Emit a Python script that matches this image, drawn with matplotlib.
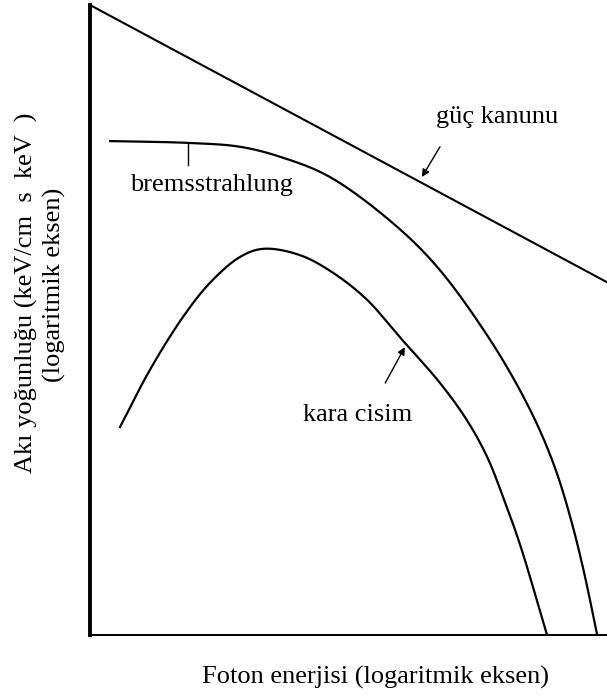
import matplotlib
matplotlib.use("Agg")
import matplotlib.pyplot as plt
import numpy as np

plt.rcParams['font.family'] = ['Liberation Serif', 'DejaVu Serif']

# log energy (x) and log flux (y), arbitrary units
guc_x = [0.0, 10.0]
guc_y = [10.0, 5.6]

brems_x = [0.39, 1.93, 2.90, 3.68, 4.64, 5.94, 6.77, 7.68, 8.26, 8.70, 9.03, 9.32, 9.56, 9.81]
brems_y = [7.84, 7.81, 7.75, 7.59, 7.27, 6.48, 5.79, 4.76, 3.97, 3.25, 2.57, 1.78, 0.98, 0.0]

kara_x = [0.58, 1.16, 1.80, 2.32, 2.90, 3.35, 4.06, 4.70, 5.36, 5.99, 6.77, 7.29, 7.68,
          7.99, 8.32, 8.84]
kara_y = [3.30, 4.21, 5.05, 5.59, 6.00, 6.13, 6.03, 5.75, 5.32, 4.73, 4.00, 3.41, 2.83,
          2.19, 1.43, 0.0]


def smooth(xs, ys, n=24):
    # centripetal Catmull-Rom stroke through the points (no corners, no overshoot)
    p = np.column_stack([xs, ys]).astype(float)
    p = np.vstack([2 * p[0] - p[1], p, 2 * p[-1] - p[-2]])
    out = []
    for i in range(1, len(p) - 2):
        p0, p1, p2, p3 = p[i - 1], p[i], p[i + 1], p[i + 2]
        t0 = 0.0
        t1 = t0 + np.linalg.norm(p1 - p0) ** 0.5
        t2 = t1 + np.linalg.norm(p2 - p1) ** 0.5
        t3 = t2 + np.linalg.norm(p3 - p2) ** 0.5
        t = np.linspace(t1, t2, n, endpoint=False)[:, None]
        a1 = (t1 - t) / (t1 - t0) * p0 + (t - t0) / (t1 - t0) * p1
        a2 = (t2 - t) / (t2 - t1) * p1 + (t - t1) / (t2 - t1) * p2
        a3 = (t3 - t) / (t3 - t2) * p2 + (t - t2) / (t3 - t2) * p3
        b1 = (t2 - t) / (t2 - t0) * a1 + (t - t0) / (t2 - t0) * a2
        b2 = (t3 - t) / (t3 - t1) * a2 + (t - t1) / (t3 - t1) * a3
        out.append((t2 - t) / (t2 - t1) * b1 + (t - t1) / (t2 - t1) * b2)
    out.append(p[-2][None, :])
    out = np.vstack(out)
    return out[:, 0], out[:, 1]


fig = plt.figure(figsize=(6.07, 6.96), dpi=100)
ax = fig.add_axes([90/607, 1 - 635/696, 517/607, 630/696])

ax.plot(guc_x, guc_y, color='black', lw=1.5)
ax.plot(*smooth(brems_x, brems_y), color='black', lw=1.6)
ax.plot(*smooth(kara_x, kara_y), color='black', lw=1.6)

ax.set_xlim(0, 10)
ax.set_ylim(0, 10)
ax.set_xticks([])
ax.set_yticks([])
ax.spines['top'].set_visible(False)
ax.spines['right'].set_visible(False)
ax.spines['left'].set_linewidth(2.8)
ax.spines['bottom'].set_linewidth(1.4)

fs = 19
arrow = dict(arrowstyle='-|>', color='black', lw=1.0, mutation_scale=11,
             shrinkA=0, shrinkB=0)

ax.annotate('', xy=(6.42, 7.27), xytext=(6.77, 7.75), arrowprops=arrow)
ax.text(7.87, 8.22, 'güç kanunu', fontsize=fs, ha='center', va='center')

ax.plot([1.90, 1.90], [7.81, 7.46], color='black', lw=1.0)
ax.text(2.34, 7.14, 'bremsstrahlung', fontsize=fs, ha='center', va='center')

ax.annotate('', xy=(6.09, 4.57), xytext=(5.71, 4.0), arrowprops=arrow)
ax.text(5.18, 3.49, 'kara cisim', fontsize=fs, ha='center', va='center')

fig.text(376/607, 1 - 677/696, 'Foton enerjisi (logaritmik eksen)', fontsize=fs,
         ha='center', va='center')
fig.text(26/607, 1 - 293/696, 'Akı yoğunluğu (keV/cm  s  keV  )', fontsize=fs,
         ha='center', va='center', rotation=90)
fig.text(54/607, 1 - 285/696, '(logaritmik eksen)', fontsize=fs,
         ha='center', va='center', rotation=90)

fig.savefig('out.png', dpi=100)
